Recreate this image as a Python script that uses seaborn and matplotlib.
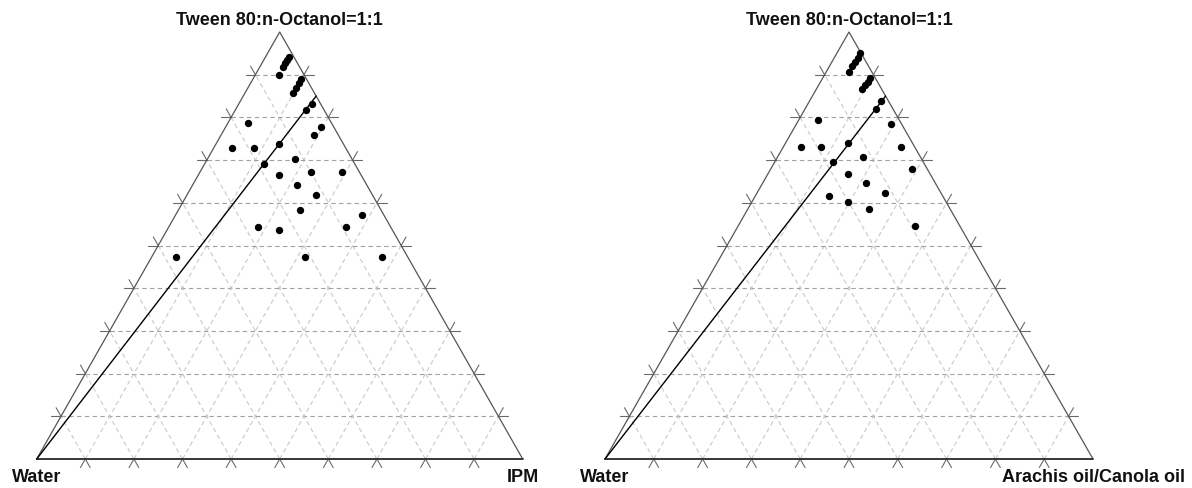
import numpy as np
import pandas as pd
import seaborn as sns
import matplotlib.pyplot as plt

# composition in % (Smix = Tween 80:n-Octanol 1:1), water is the rest
ipm_smix = [94.2, 93.4, 92.7, 91.9, 90.0,
            88.9, 88.0, 87.0, 85.8,
            83.2, 81.7,
            78.8, 77.8, 75.9, 72.8, 72.8, 73.8, 69.0, 70.3, 66.4, 67.3, 67.3,
            64.2, 61.9, 58.2, 57.1, 54.3, 54.3, 53.7, 47.4, 47.4, 47.4]
ipm_oil = [4.9, 4.8, 4.7, 4.7, 4.9,
           10.0, 10.0, 9.9, 9.8,
           15.0, 14.5,
           4.1, 19.7, 19.2, 3.7, 8.3, 13.0, 12.3, 17.9, 16.7, 22.7, 29.1,
           21.4, 26.5, 25.1, 38.3, 36.4, 18.3, 23.0, 5.0, 31.5, 47.4]

arachis_smix = [95.0, 94.0, 93.0, 92.0, 90.6,
                89.2, 88.4, 87.5, 86.6,
                83.8, 82.0,
                79.4, 78.5, 73.1, 73.1, 74.1, 73.1, 69.6, 70.8, 68.0, 66.7,
                64.6, 61.6, 62.4, 60.1, 58.5, 54.6]
arachis_oil = [4.8, 4.8, 4.7, 4.7, 4.7,
               9.8, 9.7, 9.5, 9.4,
               14.7, 14.5,
               3.9, 19.3, 3.6, 7.8, 12.8, 24.2, 12.0, 17.5, 29.0, 16.5,
               21.2, 15.2, 26.2, 19.8, 24.8, 36.2]

top_label = 'Tween 80:n-Octanol=1:1'
left_label = 'Water'
right_labels = ['IPM', 'Arachis oil/Canola oil']

# dilution line: water vertex -> oil:Smix = 15:85
dil_smix, dil_oil = 85, 15


def to_xy(smix, oil):
    s = np.asarray(smix, dtype=float) / 100.0
    o = np.asarray(oil, dtype=float) / 100.0
    return o + s / 2, s


def draw_frame(ax):
    e = 0.02
    for k in np.arange(0.1, 0.95, 0.1):
        # constant smix (horizontal)
        x, y = to_xy([k * 100, k * 100], [0, (1 - k) * 100])
        ax.plot(x, y, color='#a0a0a0', lw=0.8, ls=(0, (4, 3)))
        # constant oil
        x, y = to_xy([0, (1 - k) * 100], [k * 100, k * 100])
        ax.plot(x, y, color='#c8c8c8', lw=0.8, ls=(0, (4, 3)))
        # constant water
        x, y = to_xy([0, (1 - k) * 100], [(1 - k) * 100, 0])
        ax.plot(x, y, color='#c8c8c8', lw=0.8, ls=(0, (4, 3)))

        # tick marks outside the edges
        ticks = [
            ([0, -e], [k, k]), ([0, -e], [k, k + e]),          # bottom
            ([k, k], [0, -e]), ([k, k + e], [0, -e]),          # left
            ([k, k], [1 - k, 1 - k + e]), ([k, k + e], [1 - k, 1 - k]),  # right
        ]
        for ss, oo in ticks:
            x, y = to_xy(np.array(ss) * 100, np.array(oo) * 100)
            ax.plot(x, y, color='#6a6a6a', lw=0.8, clip_on=False)

    x, y = to_xy([0, 0, 100, 0], [0, 100, 0, 0])
    ax.plot(x, y, color='#555555', lw=0.9, clip_on=False)
    x, y = to_xy([0, 0], [0, 100])
    ax.plot(x, y, color='#333333', lw=1.3, clip_on=False)


sns.set_style('white')
plt.rcParams['font.family'] = ['Liberation Sans', 'DejaVu Sans']

fig = plt.figure(figsize=(11.92, 4.88), dpi=100)
W, H = 1192, 488
positions = [[36.7 / W, 29 / H, 486 / W, 427 / H],
             [605 / W, 29 / H, 488 / W, 427 / H]]
datasets = [(ipm_smix, ipm_oil), (arachis_smix, arachis_oil)]

for pos, (smix, oil), rlab in zip(positions, datasets, right_labels):
    ax = fig.add_axes(pos)
    ax.set_xlim(0, 1)
    ax.set_ylim(0, 1)
    ax.axis('off')
    draw_frame(ax)

    x, y = to_xy([0, dil_smix], [0, dil_oil])
    ax.plot(x, y, color='black', lw=1.0, clip_on=False)

    px, py = to_xy(smix, oil)
    df = pd.DataFrame({'x': px, 'y': py})
    sns.scatterplot(data=df, x='x', y='y', ax=ax, color='black', s=28,
                    linewidth=0, clip_on=False, zorder=5)
    ax.set_xlabel('')
    ax.set_ylabel('')

    fs = 13
    ax.annotate(top_label, xy=(0.5, 1), xytext=(0, 5), textcoords='offset points',
                ha='center', va='baseline', fontsize=fs, fontweight='bold',
                color='#111111', annotation_clip=False)
    ax.annotate(left_label, xy=(0, 0), xytext=(0, -7.5), textcoords='offset points',
                ha='center', va='top', fontsize=fs, fontweight='bold',
                color='#111111', annotation_clip=False)
    ax.annotate(rlab, xy=(1, 0), xytext=(0, -7.5), textcoords='offset points',
                ha='center', va='top', fontsize=fs, fontweight='bold',
                color='#111111', annotation_clip=False)

fig.savefig('out.png', dpi=100)
